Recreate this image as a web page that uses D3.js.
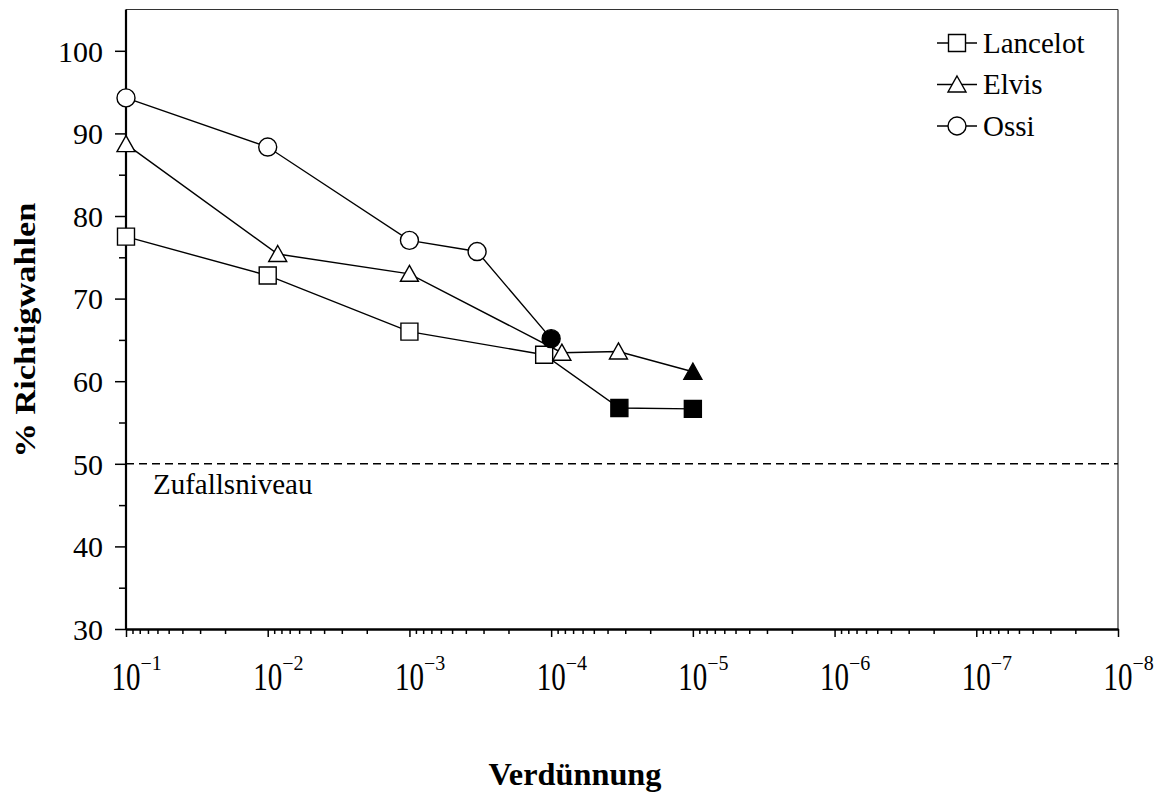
<!DOCTYPE html>
<html>
<head>
<meta charset="utf-8">
<script src="https://cdn.jsdelivr.net/npm/d3@7"></script>
<style>
html,body{margin:0;padding:0;background:#fff;}
svg{display:block;}
text{font-family:"Liberation Serif","Times New Roman",serif;fill:#000;}
</style>
</head>
<body>
<svg id="chart" width="1161" height="794"></svg>
<script>
// ---- data ----
const seriesNames = ["Lancelot", "Elvis", "Ossi"];
const lancelotX = [1e-1, 1e-2, 1e-3, 1.12e-4, 3.3e-5, 1e-5];
const lancelotY = [77.5, 72.8, 66.0, 63.2, 56.75, 56.65];
const lancelotFilled = [0, 0, 0, 0, 1, 1];
const elvisX = [1e-1, 8.5e-3, 1e-3, 8.4e-5, 3.35e-5, 1e-5];
const elvisY = [88.7, 75.4, 73.0, 63.45, 63.6, 61.15];
const elvisFilled = [0, 0, 0, 0, 0, 1];
const ossiX = [1e-1, 1e-2, 1e-3, 3.33e-4, 1e-4];
const ossiY = [94.3, 88.35, 77.05, 75.7, 65.15];
const ossiFilled = [0, 0, 0, 0, 1];
const xMajorExponents = [-1, -2, -3, -4, -5, -6, -7, -8];
const yTickValues = [30, 40, 50, 60, 70, 80, 90, 100];
const yMinorValues = [35, 45, 55, 65, 75, 85, 95];
const chanceLevel = 50;
const chanceLabel = "Zufallsniveau";
const xTitle = "Verdünnung";
const yTitle = "% Richtigwahlen";

// ---- layout ----
const L = 126, R = 1118, T = 9.5, B = 629;
const svg = d3.select("#chart");
const x = d3.scaleLog().domain([1e-1, 1e-8]).range([L, R]);
const y = d3.scaleLinear().domain([30, 105]).range([B, T]);

// frame top/right
svg.append("line").attr("x1", L).attr("x2", R).attr("y1", T).attr("y2", T)
  .attr("stroke", "#333").attr("stroke-width", 1.2);
svg.append("line").attr("x1", R).attr("x2", R).attr("y1", T).attr("y2", B)
  .attr("stroke", "#333").attr("stroke-width", 1.2);

// x minor ticks
const xMinor = [];
for (let e = -2; e >= -8; e--) for (let m = 2; m <= 9; m++) xMinor.push(m * Math.pow(10, e));
const xMajor = xMajorExponents.map(e => Math.pow(10, e));
const gxMinor = svg.append("g").attr("transform", `translate(0,${B})`)
  .call(d3.axisBottom(x).tickValues(xMinor).tickSize(5).tickFormat(""));
gxMinor.select(".domain").remove();
const gx = svg.append("g").attr("transform", `translate(0,${B})`)
  .call(d3.axisBottom(x).tickValues(xMajor).tickSize(8).tickSizeOuter(0).tickFormat(""));
svg.selectAll("g .tick line").attr("stroke", "#000").attr("stroke-width", 1.5);
gx.select(".domain").attr("stroke", "#000").attr("stroke-width", 2.6);

// x tick labels 10^n
const xl = svg.append("g");
xMajorExponents.forEach(e => {
  const px = x(Math.pow(10, e));
  xl.append("text").attr("transform", `translate(${px},690) scale(1,1.35)`)
    .attr("text-anchor", "middle").attr("font-size", 29).text("10");
  xl.append("text").attr("x", px + 14.5).attr("y", 669.5).attr("text-anchor", "start")
    .attr("font-size", 20).text("\u2212" + Math.abs(e));
});

// y axis
const gyMinor = svg.append("g").attr("transform", `translate(${L},0)`)
  .call(d3.axisLeft(y).tickValues(yMinorValues).tickSize(7).tickFormat(""));
gyMinor.select(".domain").remove();
const gy = svg.append("g").attr("transform", `translate(${L},0)`)
  .call(d3.axisLeft(y).tickValues(yTickValues).tickSize(11).tickSizeOuter(0).tickPadding(12).tickFormat(d3.format("d")));
gy.select(".domain").attr("stroke", "#000").attr("stroke-width", 2.2)
  .attr("d", `M0,${T}V${B + 1}`);
svg.selectAll("g .tick line").attr("stroke", "#000").attr("stroke-width", 1.5);
gy.selectAll(".tick text").attr("font-size", 30)
  .attr("font-family", "Liberation Serif, Times New Roman, serif").attr("fill", "#000").attr("dy", "0.34em");

// chance level
svg.append("line").attr("x1", L).attr("x2", R).attr("y1", y(chanceLevel)).attr("y2", y(chanceLevel))
  .attr("stroke", "#000").attr("stroke-width", 1.5).attr("stroke-dasharray", "8,5");
svg.append("text").attr("x", 153).attr("y", y(chanceLevel) + 30).attr("font-size", 29).text(chanceLabel);

// series
const series = [
  {name: seriesNames[0], xs: lancelotX, ys: lancelotY, f: lancelotFilled, shape: "square"},
  {name: seriesNames[1], xs: elvisX, ys: elvisY, f: elvisFilled, shape: "triangle"},
  {name: seriesNames[2], xs: ossiX, ys: ossiY, f: ossiFilled, shape: "circle"}
];
function markerPath(shape) {
  if (shape === "square") return "M-8.5,-8.5H8.5V8.5H-8.5Z";
  if (shape === "triangle") return "M0,-8.5L9,7.5H-9Z";
  return "M9,0A9,9 0 1,1 -9,0A9,9 0 1,1 9,0Z";
}
const line = d3.line().x(d => x(d[0])).y(d => y(d[1]));
series.forEach(s => {
  const pts = s.xs.map((v, i) => [v, s.ys[i], s.f[i]]);
  svg.append("path").attr("d", line(pts)).attr("fill", "none")
    .attr("stroke", "#000").attr("stroke-width", 1.4);
});
series.forEach(s => {
  const pts = s.xs.map((v, i) => [v, s.ys[i], s.f[i]]);
  svg.append("g").selectAll("path").data(pts).join("path")
    .attr("transform", d => `translate(${x(d[0])},${y(d[1])})`)
    .attr("d", markerPath(s.shape))
    .attr("fill", d => d[2] ? "#000" : "#fff")
    .attr("stroke", "#000").attr("stroke-width", 1.4);
});

// legend
const lg = svg.append("g");
series.forEach((s, i) => {
  const cy = 43 + i * 41.5;
  lg.append("line").attr("x1", 937).attr("x2", 977).attr("y1", cy).attr("y2", cy)
    .attr("stroke", "#000").attr("stroke-width", 1.4);
  lg.append("path").attr("transform", `translate(957,${cy})`).attr("d", markerPath(s.shape))
    .attr("fill", "#fff").attr("stroke", "#000").attr("stroke-width", 1.4);
  lg.append("text").attr("x", 983).attr("y", cy + 9.5).attr("font-size", 29).text(s.name);
});

// titles
svg.append("text").attr("x", 575).attr("y", 785).attr("text-anchor", "middle")
  .attr("font-size", 31).attr("font-weight", "bold")
  .attr("textLength", 173).attr("lengthAdjust", "spacingAndGlyphs").text(xTitle);
svg.append("text").attr("transform", "translate(35,330) rotate(-90)").attr("text-anchor", "middle")
  .attr("font-size", 30).attr("font-weight", "bold")
  .attr("textLength", 255).attr("lengthAdjust", "spacingAndGlyphs").text(yTitle);
</script>
</body>
</html>
